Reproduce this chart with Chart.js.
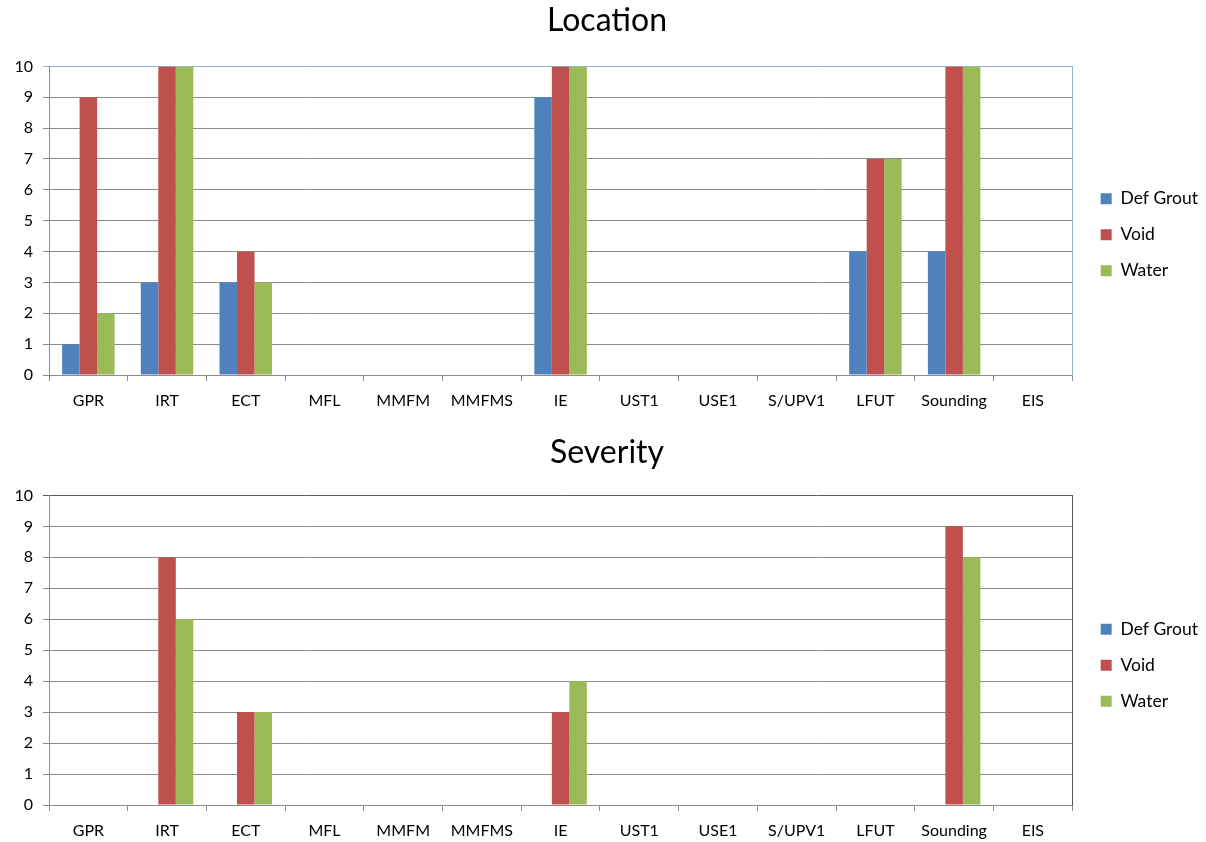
<!DOCTYPE html>
<html>
<head>
<meta charset="utf-8">
<title>Location and Severity</title>
<script src="https://cdn.jsdelivr.net/npm/chart.js@4.4.0/dist/chart.umd.min.js"></script>
<style>
  html, body { margin: 0; padding: 0; background: #ffffff; overflow: hidden; }
  .panel { position: absolute; left: 0; width: 1206px; height: 421px; }
  #panelLocation { top: 0; }
  #panelSeverity { top: 421px; }
</style>
</head>
<body>
<div class="panel" id="panelLocation"><canvas id="locationChart"></canvas></div>
<div class="panel" id="panelSeverity"><canvas id="severityChart"></canvas></div>
<script>
// Inspection methods along the x axis
const categories = ['GPR', 'IRT', 'ECT', 'MFL', 'MMFM', 'MMFMS', 'IE', 'UST1', 'USE1', 'S/UPV1', 'LFUT', 'Sounding', 'EIS'];
const seriesNames = ['Def Grout', 'Void', 'Water'];
const yTickValues = [0, 1, 2, 3, 4, 5, 6, 7, 8, 9, 10];

// Location scores
const locationDefGrout = [1, 3, 3, 0, 0, 0, 9, 0, 0, 0, 4, 4, 0];
const locationVoid     = [9, 10, 4, 0, 0, 0, 10, 0, 0, 0, 7, 10, 0];
const locationWater    = [2, 10, 3, 0, 0, 0, 10, 0, 0, 0, 7, 10, 0];

// Severity scores
const severityDefGrout = [0, 0, 0, 0, 0, 0, 0, 0, 0, 0, 0, 0, 0];
const severityVoid     = [0, 8, 3, 0, 0, 0, 3, 0, 0, 0, 0, 9, 0];
const severityWater    = [0, 6, 3, 0, 0, 0, 4, 0, 0, 0, 0, 8, 0];

const seriesColors = ['#4F81BD', '#C0504D', '#9BBB59'];
const FONT = 'Lato, "Open Sans", sans-serif';
const GRID = '#8c8c8c';

// Nudges the legend block after layout
const legendShift = {
  id: 'legendShift',
  afterLayout(chart, args, opts) {
    const lg = chart.legend;
    if (!lg) return;
    if (opts.dy) { lg.top += opts.dy; lg.bottom += opts.dy; }
    if (opts.dx) { lg.left += opts.dx; lg.right += opts.dx; }
  }
};

function buildChart(canvasId, titleText, values, frameColor, pad) {
  const datasets = values.map((v, i) => ({
    label: seriesNames[i],
    data: v,
    backgroundColor: seriesColors[i],
    borderWidth: 0,
    categoryPercentage: 0.667,
    barPercentage: 1.0
  }));

  return new Chart(document.getElementById(canvasId), {
    type: 'bar',
    data: { labels: categories, datasets },
    plugins: [legendShift],
    options: {
      responsive: true,
      maintainAspectRatio: false,
      animation: false,
      layout: { padding: { top: pad.top, bottom: pad.bottom, left: 8, right: 0 } },
      plugins: {
        title: {
          display: true,
          text: titleText,
          color: '#000',
          font: { family: FONT, size: 32, weight: 'normal' },
          padding: { top: 0, bottom: pad.titleGap }
        },
        legend: {
          position: 'right',
          align: 'center',
          fullSize: false,
          labels: {
            boxWidth: 11,
            boxHeight: 11,
            padding: 18.5,
            color: '#000',
            font: { family: FONT, size: 17.5 }
          }
        },
        legendShift: { dx: 2, dy: pad.legendDy },
        tooltip: { enabled: false }
      },
      scales: {
        x: {
          type: 'category',
          offset: true,
          afterFit(scale) { scale.height = 37; },
          grid: { offset: true, drawOnChartArea: false, color: GRID, tickLength: 6 },
          border: { color: GRID },
          ticks: { color: '#000', font: { family: FONT, size: 16 }, padding: 10, maxRotation: 0, autoSkip: false }
        },
        y: {
          min: 0,
          max: 10,
          afterBuildTicks(scale) { scale.ticks = yTickValues.map(v => ({ value: v })); },
          afterFit(scale) { scale.width = 41; },
          grid: {
            tickLength: 6,
            color: ctx => (ctx.tick && ctx.tick.value === 10) ? frameColor : GRID
          },
          border: { color: GRID },
          ticks: { color: '#000', font: { family: FONT, size: 16 }, padding: 10 }
        },
        frameRight: {
          type: 'linear',
          position: 'right',
          min: 0,
          max: 10,
          afterFit(scale) { scale.width = 8; },
          grid: { display: false },
          border: { color: frameColor },
          ticks: { display: false }
        }
      }
    }
  });
}

buildChart('locationChart', 'Location',
  [locationDefGrout, locationVoid, locationWater], '#95B3D7',
  { top: 1, bottom: 9, titleGap: 27, legendDy: 14 });

buildChart('severityChart', 'Severity',
  [severityDefGrout, severityVoid, severityWater], '#595959',
  { top: 12, bottom: 0, titleGap: 24, legendDy: 15 });
</script>
</body>
</html>
